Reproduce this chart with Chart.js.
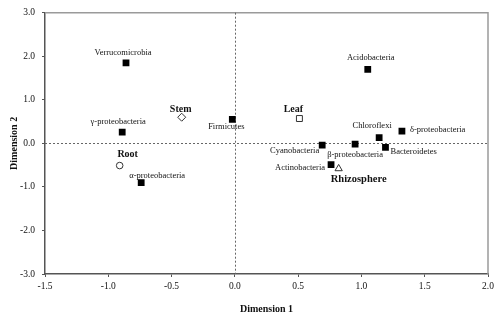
<!DOCTYPE html>
<html>
<head>
<meta charset="utf-8">
<script src="https://cdn.jsdelivr.net/npm/chart.js@4.4.1/dist/chart.umd.min.js"></script>
<style>
  html, body { margin: 0; padding: 0; background: #fff; }
  #wrap { width: 500px; height: 322px; position: relative; }
</style>
</head>
<body>
<div id="wrap"><canvas id="mcaChart"></canvas></div>
<script>
// Bacterial phyla (filled squares)
const taxaNames = ['Verrucomicrobia', 'γ-proteobacteria', 'Firmicutes', 'α-proteobacteria', 'Acidobacteria',
  'Chloroflexi', 'δ-proteobacteria', 'Cyanobacteria', 'β-proteobacteria', 'Bacteroidetes', 'Actinobacteria'];
const taxaX = [-0.86, -0.89, -0.02, -0.74, 1.05, 1.14, 1.32, 0.69, 0.95, 1.19, 0.76];
const taxaY = [1.85, 0.26, 0.55, -0.90, 1.70, 0.13, 0.28, -0.04, -0.02, -0.09, -0.49];

// Plant compartments (open markers)
const compNames = ['Stem', 'Leaf', 'Root', 'Rhizosphere'];
const compX = [-0.42, 0.51, -0.91, 0.82];
const compY = [0.60, 0.57, -0.51, -0.58];
const compMarkers = ['rectRot', 'rect', 'circle', 'triangle'];

const xTicks = [-1.5, -1.0, -0.5, 0.0, 0.5, 1.0, 1.5, 2.0];
const yTicks = [-3.0, -2.0, -1.0, 0.0, 1.0, 2.0, 3.0];

const serif = "'Liberation Serif', 'Times New Roman', serif";

// label placement relative to the marker: [dx, dy, align]
const labelPos = {
  'Verrucomicrobia': [-3, -10, 'center'],
  'γ-proteobacteria': [-4, -10, 'center'],
  'Firmicutes': [-6, 7, 'center'],
  'α-proteobacteria': [16, -7, 'center'],
  'Acidobacteria': [3, -12, 'center'],
  'Chloroflexi': [-7, -12, 'center'],
  'δ-proteobacteria': [8, -1, 'left'],
  'Cyanobacteria': [-3, 6, 'right'],
  'β-proteobacteria': [0, 11, 'center'],
  'Bacteroidetes': [5, 4, 'left'],
  'Actinobacteria': [-6, 3, 'right'],
  'Stem': [-1, -8, 'center'],
  'Leaf': [-6, -9, 'center'],
  'Root': [8, -11, 'center'],
  'Rhizosphere': [20, 11, 'center']
};

const decorPlugin = {
  id: 'decor',
  beforeDatasetsDraw(chart) {
    const { ctx, chartArea: a, scales: { x, y } } = chart;
    ctx.save();
    // light top / right frame
    ctx.strokeStyle = '#9a9a9a';
    ctx.lineWidth = 1.5;
    ctx.beginPath();
    ctx.moveTo(a.left, a.top);
    ctx.lineTo(a.right, a.top);
    ctx.lineTo(a.right, a.bottom);
    ctx.stroke();
    // dotted origin lines
    ctx.strokeStyle = '#666';
    ctx.lineWidth = 1;
    ctx.setLineDash([2, 2]);
    const x0 = Math.round(x.getPixelForValue(0)) + 0.5;
    const y0 = Math.round(y.getPixelForValue(0)) + 0.5;
    ctx.beginPath();
    ctx.moveTo(x0, a.top);
    ctx.lineTo(x0, a.bottom);
    ctx.moveTo(a.left, y0);
    ctx.lineTo(a.right, y0);
    ctx.stroke();
    ctx.restore();
  },
  afterDatasetsDraw(chart) {
    const { ctx, chartArea: a } = chart;
    ctx.save();
    ctx.fillStyle = '#111';
    ctx.textBaseline = 'middle';
    chart.data.datasets.forEach((ds, di) => {
      const meta = chart.getDatasetMeta(di);
      const bold = ds.label === 'compartments';
      meta.data.forEach((pt, i) => {
        const name = ds.names[i];
        const [dx, dy, align] = labelPos[name];
        ctx.font = bold
          ? `bold ${name === 'Rhizosphere' ? 10.5 : 10}px ${serif}`
          : `8.5px ${serif}`;
        ctx.textAlign = align;
        ctx.fillText(name, pt.x + dx, pt.y + dy);
      });
    });
    // axis titles
    ctx.font = `bold 10px ${serif}`;
    ctx.textAlign = 'center';
    ctx.fillText('Dimension 1', (a.left + a.right) / 2, 309);
    ctx.translate(14, (a.top + a.bottom) / 2);
    ctx.rotate(-Math.PI / 2);
    ctx.fillText('Dimension 2', 0, 0);
    ctx.restore();
  }
};

new Chart(document.getElementById('mcaChart'), {
  type: 'scatter',
  data: {
    datasets: [
      {
        label: 'taxa',
        names: taxaNames,
        data: taxaX.map((v, i) => ({ x: v, y: taxaY[i] })),
        pointStyle: 'rect',
        pointRadius: 4.8,
        pointBackgroundColor: '#000',
        pointBorderColor: '#000',
        pointBorderWidth: 0
      },
      {
        label: 'compartments',
        names: compNames,
        data: compX.map((v, i) => ({ x: v, y: compY[i] })),
        pointStyle: compMarkers,
        pointRadius: [4, 4.2, 3.3, 4.2],
        pointBackgroundColor: '#fff',
        pointBorderColor: '#333',
        pointBorderWidth: 1
      }
    ]
  },
  options: {
    responsive: true,
    maintainAspectRatio: false,
    animation: false,
    layout: { padding: { left: 0, top: 9, right: 12, bottom: 0 } },
    plugins: {
      legend: { display: false },
      tooltip: { enabled: false }
    },
    scales: {
      x: {
        type: 'linear',
        min: xTicks[0],
        max: xTicks[xTicks.length - 1],
        afterBuildTicks: s => { s.ticks = xTicks.map(v => ({ value: v })); },
        afterFit: s => { s.height = 48; },
        grid: { drawOnChartArea: false, tickLength: 3, color: '#555' },
        border: { color: '#555', width: 1.5 },
        ticks: {
          color: '#111',
          padding: 4,
          maxRotation: 0,
          font: { family: serif, size: 9.5 },
          callback: v => v.toFixed(1)
        }
      },
      y: {
        type: 'linear',
        min: yTicks[0],
        max: yTicks[yTicks.length - 1],
        afterBuildTicks: s => { s.ticks = yTicks.map(v => ({ value: v })); },
        afterFit: s => { s.width = 45; },
        grid: { drawOnChartArea: false, tickLength: 3, color: '#555' },
        border: { color: '#555', width: 1.5 },
        ticks: {
          color: '#111',
          padding: 7,
          font: { family: serif, size: 9.5 },
          callback: v => v.toFixed(1)
        }
      }
    }
  },
  plugins: [decorPlugin]
});
</script>
</body>
</html>
